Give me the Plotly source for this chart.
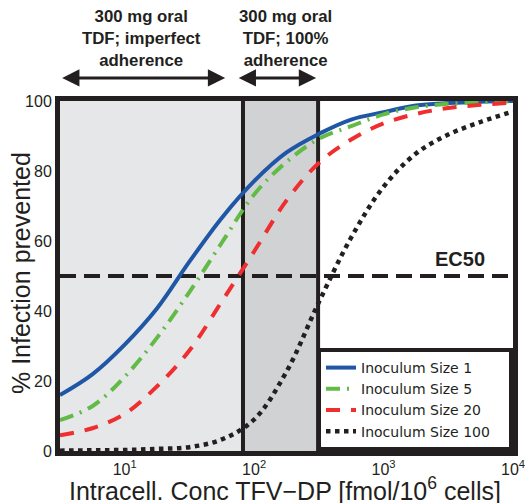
import math
import plotly.graph_objects as go

# ---- data ----
conc = [3.16, 5.62, 10, 17.8, 31.6, 56.2, 100, 178, 316, 562, 1000, 1780, 3160, 5620, 10000]
inoc_1 = [16.0, 21.9, 30.4, 40.8, 54.1, 66.6, 77.1, 85.3, 90.6, 94.7, 96.8, 98.7, 99.4, 99.8, 100]
inoc_5 = [8.8, 12.8, 21.2, 32.4, 45.4, 59.5, 73.3, 82.6, 89.2, 92.8, 96.2, 98.2, 99.2, 99.7, 100]
inoc_20 = [4.5, 6.5, 10.6, 18.5, 28.7, 42.7, 57.0, 71.6, 82.3, 89.0, 93.6, 96.3, 98.0, 98.9, 99.6]
inoc_100 = [0.1, 0.2, 0.3, 0.6, 1.1, 3.3, 9.0, 22.7, 42.5, 61.0, 75.5, 85.0, 90.4, 94.0, 97.0]

series_names = ["Inoculum Size 1", "Inoculum Size 5", "Inoculum Size 20", "Inoculum Size 100"]
series_vals = [inoc_1, inoc_5, inoc_20, inoc_100]

region_bounds = [3.16, 82, 312]   # imperfect / 100% adherence boundaries
ec50 = 50
arrow_left = [3.2, 59.7]
arrow_right = [74, 301]
x_tickvals = [10, 100, 1000, 10000]
x_ticktext = ["10<sup>1</sup>", "10<sup>2</sup>", "10<sup>3</sup>", "10<sup>4</sup>"]
y_tickvals = [0, 20, 40, 60, 80, 100]

colors = ["#1f56a5", "#62bb46", "#ee2e2f", "#231f20"]
dashes = ["solid", "14px,7px,2px,7px", "14px,11px", "dot"]
widths = [4, 4, 4, 4.5]

INK = "#231f20"
FONT = "Liberation Sans"
PAD = "\u00a0\u00a0\u00a0"  # trailing blank room inside the legend box

fig = go.Figure()
for name, vals, c, d, w in zip(series_names, series_vals, colors, dashes, widths):
    fig.add_trace(go.Scatter(x=conc, y=vals, mode="lines", name=name + PAD,
                             line=dict(color=c, dash=d, width=w, shape="spline", smoothing=1.0)))

# shaded regions
fig.add_shape(type="rect", xref="x", yref="paper", x0=region_bounds[0], x1=region_bounds[1],
              y0=0, y1=1, fillcolor="#e6e7e8", line_width=0, layer="below")
fig.add_shape(type="rect", xref="x", yref="paper", x0=region_bounds[1], x1=region_bounds[2],
              y0=0, y1=1, fillcolor="#d1d2d4", line_width=0, layer="below")
for xb in region_bounds[1:]:
    fig.add_shape(type="line", xref="x", yref="paper", x0=xb, x1=xb, y0=0, y1=1,
                  line=dict(color=INK, width=4), layer="below")
fig.add_shape(type="line", xref="paper", yref="y", x0=0, x1=1, y0=ec50, y1=ec50,
              line=dict(color=INK, width=4, dash="16px,8px"), layer="below")

fig.add_annotation(x=3.6, y=ec50, xref="x", yref="y", text="<b>EC50</b>", showarrow=False,
                   yshift=17, xshift=-1, font=dict(size=20, color=INK, family=FONT))


def lg(v):
    return math.log10(v)


# arrows
for (a, b) in [arrow_left, arrow_right]:
    fig.add_annotation(x=lg(b), y=1.066, xref="x", yref="paper", ax=lg(a), ay=0,
                       axref="x", ayref="pixel", showarrow=True, text="",
                       arrowhead=2, startarrowhead=2, arrowside="end+start",
                       arrowwidth=3, arrowsize=1.15, startarrowsize=1.15, arrowcolor=INK)

fig.add_annotation(x=lg(13.4), y=1.18, xref="x", yref="paper", yanchor="middle", showarrow=False,
                   text="<b>300 mg oral<br>TDF; imperfect<br>adherence</b>",
                   font=dict(size=16.8, color=INK, family=FONT), align="center")
fig.add_annotation(x=lg(176), y=1.18, xref="x", yref="paper", yanchor="middle", showarrow=False,
                   text="<b>300 mg oral<br>TDF; 100%<br>adherence</b>",
                   font=dict(size=16.8, color=INK, family=FONT), align="center")

# axis titles
fig.add_annotation(x=0, y=0.5, xref="paper", yref="paper", xanchor="center", yanchor="middle",
                   xshift=-39, yshift=3, text="% Infection prevented", textangle=-90,
                   showarrow=False, font=dict(size=25, color=INK, family=FONT))
fig.add_annotation(x=0.5, y=0, xref="paper", yref="paper", xanchor="center", yanchor="middle",
                   xshift=-2, yshift=-38,
                   text="Intracell. Conc TFV−DP [fmol/10<sup>6</sup> cells]",
                   showarrow=False, font=dict(size=25, color=INK, family=FONT))

fig.update_layout(
    width=526, height=503,
    margin=dict(l=60, r=13, t=101, b=52),
    paper_bgcolor="white", plot_bgcolor="white",
    font=dict(family=FONT, color=INK, size=16),
    showlegend=True,
    legend=dict(x=1, y=0, xanchor="right", yanchor="bottom", bgcolor="white",
                bordercolor=INK, borderwidth=4, font=dict(size=14, family="DejaVu Sans"),
                tracegroupgap=0, itemwidth=30),
)
fig.update_xaxes(type="log", range=[0.5, 4], tickvals=x_tickvals, ticktext=x_ticktext,
                 showgrid=False, zeroline=False, showline=True, linewidth=5, linecolor=INK,
                 mirror=True, ticks="", tickfont=dict(size=16), automargin=False)
fig.update_yaxes(range=[0, 100], tickvals=y_tickvals,
                 showgrid=False, zeroline=False, showline=True, linewidth=5, linecolor=INK,
                 mirror=True, ticks="", tickfont=dict(size=16), automargin=False)

fig.write_html("out.html", config={"displayModeBar": False},
               post_script="document.body.style.margin='0px';document.body.style.overflow='hidden';")
